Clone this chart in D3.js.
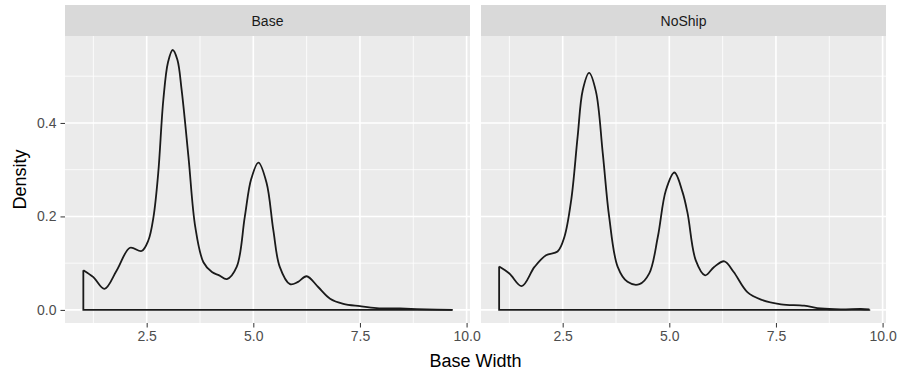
<!DOCTYPE html>
<html>
<head>
<meta charset="utf-8">
<script src="https://cdn.jsdelivr.net/npm/d3@7"></script>
<style>
  body { margin: 0; background: #fff; }
  text { font-family: "Liberation Sans", Arial, sans-serif; }
</style>
</head>
<body>
<div id="chart"></div>
<script>
// facet labels
var facets = ["Base", "NoShip"];

// density curves (x = base width, d = density)
var baseX       = [1.015, 1.25, 1.51, 1.8, 2.11, 2.38, 2.54, 2.66, 2.77, 2.89, 3.0, 3.11, 3.22, 3.32, 3.48, 3.64, 3.83, 4.03, 4.2, 4.38, 4.61, 4.80, 4.95, 5.12, 5.31, 5.47, 5.62, 5.86, 6.05, 6.25, 6.52, 6.80, 7.11, 7.50, 7.89, 8.44, 9.06, 9.67];
var baseDensity = [0.085, 0.070, 0.045, 0.085, 0.133, 0.126, 0.149, 0.199, 0.292, 0.449, 0.530, 0.556, 0.535, 0.470, 0.327, 0.177, 0.102, 0.081, 0.074, 0.066, 0.092, 0.199, 0.280, 0.315, 0.272, 0.170, 0.092, 0.055, 0.060, 0.072, 0.049, 0.024, 0.013, 0.008, 0.004, 0.003, 0.001, 0.0];

var noShipX       = [1.01, 1.25, 1.54, 1.84, 2.11, 2.38, 2.54, 2.70, 2.85, 2.97, 3.12, 3.28, 3.44, 3.59, 3.79, 4.02, 4.30, 4.53, 4.73, 4.92, 5.12, 5.31, 5.43, 5.62, 5.84, 6.05, 6.29, 6.51, 6.83, 7.15, 7.62, 8.16, 8.55, 9.02, 9.49, 9.69];
var noShipDensity = [0.093, 0.078, 0.051, 0.092, 0.117, 0.125, 0.156, 0.235, 0.370, 0.470, 0.507, 0.467, 0.335, 0.199, 0.092, 0.060, 0.055, 0.078, 0.156, 0.256, 0.294, 0.252, 0.206, 0.106, 0.074, 0.092, 0.104, 0.081, 0.038, 0.022, 0.012, 0.009, 0.003, 0.001, 0.002, 0.001];

var xTicks = [2.5, 5.0, 7.5, 10.0];
var xMinor = [1.25, 3.75, 6.25, 8.75];
var yTicks = [0.0, 0.2, 0.4];
var yMinor = [0.1, 0.3, 0.5];

var xLabel = "Base Width";
var yLabel = "Density";

var width = 899, height = 375;
var panelW = 405, panelTop = 36, panelH = 287, stripH = 31;
var panelLeft = [65, 481];

var series = [
  baseX.map((x, i) => ({x: x, d: baseDensity[i]})),
  noShipX.map((x, i) => ({x: x, d: noShipDensity[i]}))
];

var svg = d3.select("#chart").append("svg")
    .attr("width", width)
    .attr("height", height);

var x = d3.scaleLinear().domain([0.585, 10.08]).range([0, panelW]);
var y = d3.scaleLinear().domain([-0.028, 0.586]).range([panelH, 0]);

facets.forEach(function(name, i) {
    var g = svg.append("g").attr("transform", "translate(" + panelLeft[i] + "," + panelTop + ")");

    // panel background
    g.append("rect").attr("width", panelW).attr("height", panelH).attr("fill", "#EBEBEB");

    // minor grid
    g.selectAll("line.xminor").data(xMinor).enter().append("line")
        .attr("x1", d => x(d)).attr("x2", d => x(d)).attr("y1", 0).attr("y2", panelH)
        .attr("stroke", "#fff").attr("stroke-width", 0.8);
    g.selectAll("line.yminor").data(yMinor).enter().append("line")
        .attr("y1", d => y(d)).attr("y2", d => y(d)).attr("x1", 0).attr("x2", panelW)
        .attr("stroke", "#fff").attr("stroke-width", 0.8);
    // major grid
    g.selectAll("line.xmajor").data(xTicks).enter().append("line")
        .attr("x1", d => x(d)).attr("x2", d => x(d)).attr("y1", 0).attr("y2", panelH)
        .attr("stroke", "#fff").attr("stroke-width", 1.6);
    g.selectAll("line.ymajor").data(yTicks).enter().append("line")
        .attr("y1", d => y(d)).attr("y2", d => y(d)).attr("x1", 0).attr("x2", panelW)
        .attr("stroke", "#fff").attr("stroke-width", 1.6);

    // strip
    svg.append("rect")
        .attr("x", panelLeft[i]).attr("y", panelTop - stripH)
        .attr("width", panelW).attr("height", stripH)
        .attr("fill", "#D9D9D9");
    svg.append("text")
        .attr("x", panelLeft[i] + panelW / 2).attr("y", panelTop - stripH / 2 + 5)
        .attr("text-anchor", "middle")
        .attr("font-size", 14)
        .attr("fill", "#1A1A1A")
        .text(name);

    // density outline: the curve, then the closing baseline
    var pts = series[i];
    var first = pts[0], last = pts[pts.length - 1];
    g.append("path")
        .datum([{x: last.x, d: last.d}, {x: last.x, d: 0}, {x: first.x, d: 0}, {x: first.x, d: first.d}])
        .attr("fill", "none").attr("stroke", "#1a1a1a").attr("stroke-width", 1.8)
        .attr("d", d3.line().x(d => x(d.x)).y(d => y(d.d)));
    g.append("path")
        .datum(pts)
        .attr("fill", "none").attr("stroke", "#1a1a1a").attr("stroke-width", 1.8)
        .attr("stroke-linejoin", "round")
        .attr("d", d3.line().x(d => x(d.x)).y(d => y(d.d)).curve(d3.curveCatmullRom.alpha(0.5)));

    // x axis
    var xa = g.append("g").attr("transform", "translate(0," + panelH + ")")
        .call(d3.axisBottom(x).tickValues(xTicks).tickFormat(d3.format(".1f")).tickSize(4.5).tickPadding(4));
    xa.select(".domain").remove();
    xa.selectAll("line").attr("stroke", "#333").attr("stroke-width", 1);
    xa.selectAll("text").attr("font-size", 14).attr("fill", "#4D4D4D")
        .attr("font-family", "Liberation Sans, Arial, sans-serif");

    // y axis only on the first panel
    if (i === 0) {
        var ya = g.append("g")
            .call(d3.axisLeft(y).tickValues(yTicks).tickFormat(d3.format(".1f")).tickSize(4.5).tickPadding(4));
        ya.select(".domain").remove();
        ya.selectAll("line").attr("stroke", "#333").attr("stroke-width", 1);
        ya.selectAll("text").attr("font-size", 14).attr("fill", "#4D4D4D")
            .attr("font-family", "Liberation Sans, Arial, sans-serif");
    }
});

// axis titles
svg.append("text")
    .attr("x", (panelLeft[0] + panelLeft[1] + panelW) / 2)
    .attr("y", 367)
    .attr("text-anchor", "middle")
    .attr("font-size", 18)
    .attr("fill", "#000")
    .text(xLabel);

svg.append("text")
    .attr("transform", "translate(26," + (panelTop + panelH / 2) + ") rotate(-90)")
    .attr("text-anchor", "middle")
    .attr("font-size", 18)
    .attr("fill", "#000")
    .text(yLabel);
</script>
</body>
</html>
